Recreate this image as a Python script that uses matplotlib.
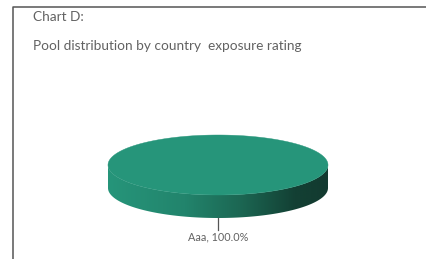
import numpy as np
import matplotlib
matplotlib.use("Agg")
import matplotlib.pyplot as plt
from matplotlib.patches import Polygon
from matplotlib.colors import LinearSegmentedColormap

# ---- data ----
title_lines = ["Chart D:", "Pool distribution by country  exposure rating"]
categories = ["Aaa"]
values = [100.0]
colors = ["#26957A"]

plt.rcParams['font.family'] = ['Lato', 'DejaVu Sans']

W, H = 426, 259
fig = plt.figure(figsize=(W / 100, H / 100), dpi=100)
ax = fig.add_axes([0, 0, 1, 1])
ax.set_xlim(0, W)
ax.set_ylim(H, 0)
ax.axis('off')

# frame
ax.plot([13, 13, W], [H, 6.5, 6.5], color="#555555", lw=1.1, solid_capstyle='butt')

# title
ax.text(33, 17, title_lines[0], fontsize=9.8, color="#626262", va='center', ha='left')
ax.text(33, 46, title_lines[1], fontsize=9.8, color="#626262", va='center', ha='left')

# 3D pie geometry
cx, cy, rx, ry, depth = 218, 165, 110, 30, 23
total = sum(values)
start = np.pi / 2  # label at front centre for single slice
cmap = LinearSegmentedColormap.from_list(
    "side", [(0.0, "#26957A"), (0.35, "#22846C"), (0.6, "#1C6753"), (0.85, "#134034"), (1.0, "#133A30")])

ang = start - np.pi * values[0] / total
for v, c, name in zip(values, colors, categories):
    frac = v / total
    t0, t1 = ang, ang + 2 * np.pi * frac
    lo, hi = max(t0, 0), min(t1, np.pi)
    if frac >= 1:
        lo, hi = 0, np.pi
    if hi > lo:
        ts = np.linspace(lo, hi, 200)
        top = np.column_stack([cx + rx * np.cos(ts), cy + ry * np.sin(ts)])
        bot = np.column_stack([cx + rx * np.cos(ts[::-1]), cy + ry * np.sin(ts[::-1]) + depth])
        side = Polygon(np.vstack([top, bot]), closed=True, facecolor='none', edgecolor='none')
        ax.add_patch(side)
        grad = np.linspace(0, 1, 256).reshape(1, -1)
        im = ax.imshow(grad, cmap=cmap, extent=[cx - rx, cx + rx, cy + ry + depth, cy - ry],
                       aspect='auto', zorder=2, interpolation='bilinear')
        im.set_clip_path(side)
    ts = np.linspace(t0, t1, 400)
    pts = np.column_stack([cx + rx * np.cos(ts), cy + ry * np.sin(ts)])
    if frac < 1:
        pts = np.vstack([[cx, cy], pts])
    ax.add_patch(Polygon(pts, closed=True, facecolor=c, edgecolor=c, lw=0.3, zorder=3))
    mid = (t0 + t1) / 2
    lx = cx + rx * np.cos(mid)
    ly = cy + ry * np.sin(mid) + depth
    ax.plot([lx, lx], [ly, ly + 12], color="#555555", lw=0.9, zorder=4)
    ax.text(lx, ly + 19, f"{name}, {v:.1f}%", fontsize=7.8, color="#626262",
            ha='center', va='center')
    ang = t1

fig.savefig("out.png", dpi=100)
